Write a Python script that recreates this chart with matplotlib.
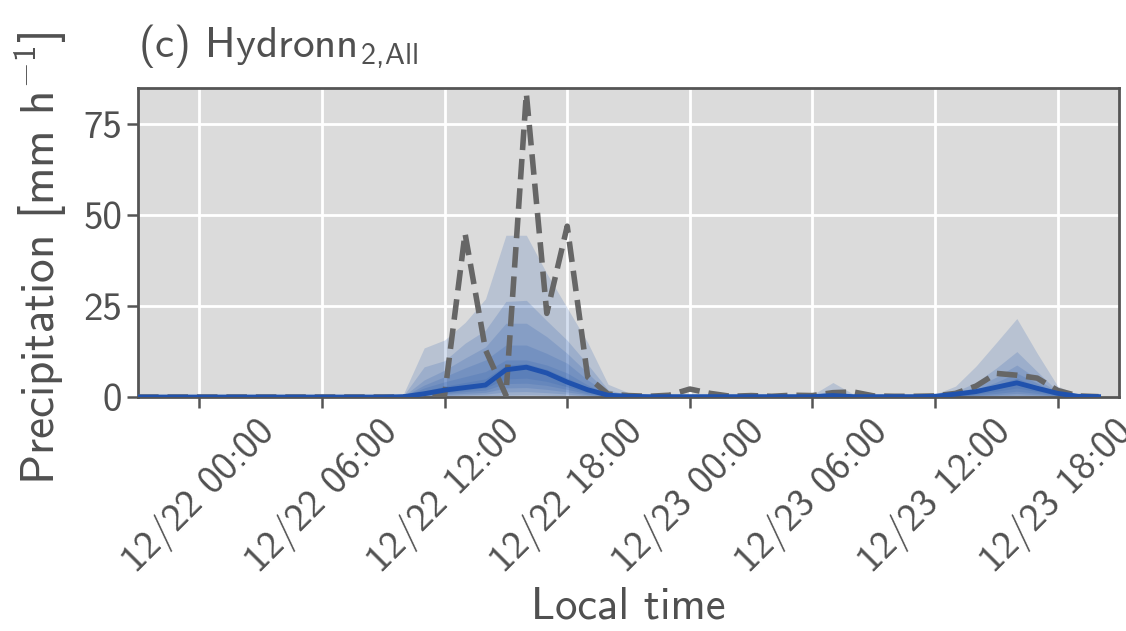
import numpy as np
import pandas as pd
import matplotlib
matplotlib.use("Agg")
import matplotlib.pyplot as plt
import matplotlib.dates as mdates

# hourly time axis, 12/21 21:00 -> 12/23 20:00
times = pd.date_range("2019-12-21 21:00", periods=48, freq="h")

# observed precipitation (dashed)
obs = [0, 0, 0, 0, 0, 0, 0, 0, 0, 0, 0, 0,
       0, 0, 0, 0.5, 45.0, 13.0, 0.5, 83.5, 23.0, 47.0, 5.5, 0.8,
       0.4, 0.2, 0.5, 2.2, 1.0, 0.2, 0.4, 0.2, 0.5, 0.4, 1.2, 1.4,
       0.3, 0.2, 0.2, 0.3, 1.0, 3.0, 6.5, 6.0, 5.2, 1.8, 0.3, 0.1]

# ensemble median
median = [0, 0, 0, 0, 0, 0, 0, 0, 0, 0, 0, 0,
          0, 0.1, 0.9, 1.9, 2.6, 3.3, 7.5, 8.2, 6.6, 4.1, 2.0, 0.5,
          0.2, 0.1, 0.1, 0.1, 0.1, 0.1, 0.1, 0.1, 0.1, 0.1, 0.4, 0.1,
          0.1, 0.1, 0.1, 0.2, 0.8, 1.5, 2.7, 3.9, 2.4, 1.0, 0.2, 0.1]

# upper quantiles, outermost first
q_up1 = [0, 0, 0, 0, 0, 0, 0, 0, 0, 0, 0, 0.1,
         0.3, 1.0, 13.5, 15.7, 20.5, 27.0, 44.5, 44.5, 34.0, 24.5, 15.0, 3.5,
         1.2, 0.4, 0.3, 0.3, 0.2, 0.2, 0.2, 0.3, 0.4, 0.6, 4.0, 0.8,
         0.3, 0.2, 0.3, 0.8, 3.0, 8.5, 15.0, 21.6, 12.0, 3.0, 0.6, 0.2]
q_up2 = [0, 0, 0, 0, 0, 0, 0, 0, 0, 0, 0, 0,
         0.1, 0.5, 8.3, 10.0, 14.8, 18.4, 26.3, 26.6, 21.0, 15.6, 9.0, 2.0,
         0.6, 0.2, 0.15, 0.15, 0.15, 0.15, 0.15, 0.15, 0.15, 0.3, 2.0, 0.4,
         0.15, 0.15, 0.15, 0.4, 1.5, 4.0, 8.0, 12.5, 7.0, 1.6, 0.3, 0.1]
q_up3 = [0, 0, 0, 0, 0, 0, 0, 0, 0, 0, 0, 0,
         0, 0.3, 4.7, 7.4, 10.7, 13.8, 20.3, 20.3, 16.6, 12.0, 6.6, 1.3,
         0.4, 0.15, 0.1, 0.1, 0.1, 0.1, 0.1, 0.1, 0.1, 0.2, 1.3, 0.3,
         0.1, 0.1, 0.1, 0.3, 1.1, 2.8, 5.5, 8.8, 5.0, 1.3, 0.2, 0.1]
q_up4 = [0, 0, 0, 0, 0, 0, 0, 0, 0, 0, 0, 0,
         0, 0.2, 3.3, 5.6, 8.0, 10.2, 14.3, 14.3, 12.0, 9.3, 4.7, 1.0,
         0.3, 0.1, 0.1, 0.1, 0.1, 0.1, 0.1, 0.1, 0.1, 0.15, 0.9, 0.2,
         0.1, 0.1, 0.1, 0.3, 0.9, 2.1, 4.1, 6.6, 3.8, 1.1, 0.2, 0.1]
q_up5 = [0, 0, 0, 0, 0, 0, 0, 0, 0, 0, 0, 0,
         0, 0.15, 2.5, 4.2, 5.6, 7.0, 10.2, 10.2, 8.8, 6.6, 3.3, 0.8,
         0.25, 0.1, 0.1, 0.1, 0.1, 0.1, 0.1, 0.1, 0.1, 0.1, 0.7, 0.15,
         0.1, 0.1, 0.1, 0.25, 0.8, 1.7, 3.3, 5.2, 3.0, 1.0, 0.15, 0.1]
q_up6 = [0, 0, 0, 0, 0, 0, 0, 0, 0, 0, 0, 0,
         0, 0.1, 1.7, 3.0, 4.0, 5.0, 8.8, 9.2, 7.6, 5.2, 2.6, 0.6,
         0.2, 0.1, 0.1, 0.1, 0.1, 0.1, 0.1, 0.1, 0.1, 0.1, 0.5, 0.1,
         0.1, 0.1, 0.1, 0.2, 0.7, 1.6, 3.0, 4.5, 2.7, 1.0, 0.15, 0.1]

# lower quantiles, outermost first
q_lo1 = [0] * 48
q_lo2 = [0, 0, 0, 0, 0, 0, 0, 0, 0, 0, 0, 0,
         0, 0, 0.05, 0.1, 0.2, 0.3, 0.5, 0.6, 0.5, 0.3, 0.1, 0,
         0, 0, 0, 0, 0, 0, 0, 0, 0, 0, 0, 0,
         0, 0, 0, 0, 0, 0, 0.1, 0.2, 0.1, 0, 0, 0]
q_lo3 = [0, 0, 0, 0, 0, 0, 0, 0, 0, 0, 0, 0,
         0, 0, 0.2, 0.4, 0.6, 0.8, 1.4, 1.5, 1.2, 0.8, 0.3, 0,
         0, 0, 0, 0, 0, 0, 0, 0, 0, 0, 0, 0,
         0, 0, 0, 0, 0, 0.1, 0.3, 0.5, 0.3, 0.1, 0, 0]
q_lo4 = [0, 0, 0, 0, 0, 0, 0, 0, 0, 0, 0, 0,
         0, 0, 0.3, 0.7, 1.0, 1.3, 2.5, 2.6, 2.1, 1.4, 0.6, 0.1,
         0, 0, 0, 0, 0, 0, 0, 0, 0, 0, 0, 0,
         0, 0, 0, 0, 0, 0.3, 0.6, 1.0, 0.6, 0.2, 0, 0]
q_lo5 = [0, 0, 0, 0, 0, 0, 0, 0, 0, 0, 0, 0,
         0, 0, 0.5, 1.0, 1.5, 1.9, 3.7, 3.8, 3.2, 2.1, 0.9, 0.2,
         0, 0, 0, 0, 0, 0, 0, 0, 0, 0, 0, 0,
         0, 0, 0, 0, 0, 0.5, 1.0, 1.6, 1.0, 0.3, 0, 0]
q_lo6 = [0, 0, 0, 0, 0, 0, 0, 0, 0, 0, 0, 0,
         0, 0, 0.6, 1.3, 1.9, 2.5, 5.0, 5.2, 4.3, 2.8, 1.3, 0.3,
         0, 0, 0, 0, 0, 0, 0, 0, 0, 0, 0, 0,
         0, 0, 0, 0, 0, 0.8, 1.6, 2.5, 1.5, 0.5, 0, 0]

uppers = [q_up1, q_up2, q_up3, q_up4, q_up5, q_up6]
lowers = [q_lo1, q_lo2, q_lo3, q_lo4, q_lo5, q_lo6]

txt = "#505050"
plt.rcParams["font.family"] = "cmss10"
plt.rcParams["mathtext.fontset"] = "custom"
plt.rcParams["mathtext.rm"] = "cmss10"
plt.rcParams["mathtext.sf"] = "cmss10"
plt.rcParams["mathtext.it"] = "cmss10"
plt.rcParams["axes.unicode_minus"] = False
plt.rcParams["text.color"] = txt
plt.rcParams["axes.labelcolor"] = txt
plt.rcParams["xtick.color"] = txt
plt.rcParams["ytick.color"] = txt

fig = plt.figure(figsize=(11.26, 6.31), dpi=100)
ax = fig.add_axes([0.1226, 0.3708, 0.8712, 0.4897])
ax.set_facecolor("#dbdbdb")
ax.grid(True, color="white", lw=2)
ax.set_axisbelow(True)

for lo, up in zip(lowers, uppers):
    ax.fill_between(times, lo, up, color="#3060b0", alpha=0.2, lw=0)

ax.plot(times, obs, ls="--", color="#666666", lw=4, zorder=3)
ax.plot(times, median, color="#2052ad", lw=3.5, zorder=4)

ax.set_xlim(times[0], times[-1] + pd.Timedelta(hours=1))
ax.set_ylim(0, 85)
ax.set_yticks([0, 25, 50, 75])

ax.xaxis.set_major_locator(mdates.HourLocator(byhour=[0, 6, 12, 18]))
ax.xaxis.set_major_formatter(mdates.DateFormatter("%m/%d %H:%M"))
plt.setp(ax.get_xticklabels(), rotation=45, ha="center")

for s in ax.spines.values():
    s.set_color("#555555")
    s.set_linewidth(2)
ax.tick_params(axis="both", length=8, width=1.8, color="#555555", labelsize=28)

ax.set_xlabel("Local time", fontsize=32)
ax.set_ylabel(r"Precipitation [mm h$^{-1}$]", fontsize=34, labelpad=10, y=0.45)
ax.set_title(r"(c) Hydronn$_{2,\!\mathrm{All}}$", loc="left", fontsize=31, pad=22)

fig.savefig("out.png", dpi=100)
